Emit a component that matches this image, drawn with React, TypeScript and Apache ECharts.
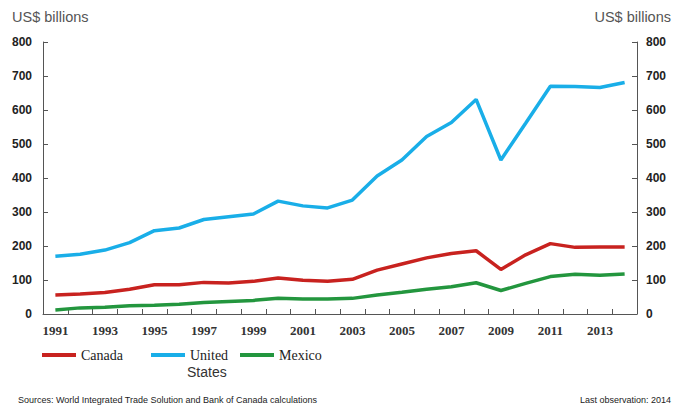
import React, { useEffect, useRef } from "react";
import * as echarts from "echarts";

const years = ["1991","1992","1993","1994","1995","1996","1997","1998","1999","2000","2001","2002","2003","2004","2005","2006","2007","2008","2009","2010","2011","2012","2013","2014"];
const canada = [56,59,63,73,86,86,93,91,96,106,99,96,102,129,147,165,178,186,131,174,207,196,197,197];
const unitedStates = [170,176,188,210,245,253,278,286,294,332,318,312,335,406,453,522,563,631,453,561,670,669,666,681];
const mexico = [12,18,20,24,26,29,34,37,40,46,44,44,46,56,64,73,80,92,69,90,110,117,114,118];

const unitTitle = "US$ billions";
const sourceText = "Sources: World Integrated Trade Solution and Bank of Canada calculations";
const lastObs = "Last observation: 2014";

const RED = "#C8221F";
const BLUE = "#19AEE8";
const GREEN = "#23963E";

export default function App() {
  const ref = useRef<HTMLDivElement>(null);
  useEffect(() => {
    const chart = echarts.init(ref.current!, null, { renderer: "svg" });
    const axisLine = { show: true, lineStyle: { color: "#555", width: 1 } };
    const yLabel = { color: "#222", fontFamily: "Liberation Sans, Arial, sans-serif", fontWeight: "bold" as const, fontSize: 12 };
    const legendText = { color: "#222", fontFamily: "Liberation Serif, serif", fontSize: 14 };
    const mkLegend = (name: string, left: number, text?: string) => ({
      data: [name],
      left,
      top: 348,
      icon: "rect",
      itemWidth: 34,
      itemHeight: 4,
      itemGap: 0,
      padding: 0,
      textStyle: legendText,
      formatter: text ? () => text : undefined,
      selectedMode: false,
    });
    chart.setOption({
      animation: false,
      backgroundColor: "#fff",
      grid: { left: 43, right: 36, top: 42, bottom: 94, containLabel: false },
      xAxis: {
        type: "category",
        data: years,
        boundaryGap: true,
        axisLine,
        axisTick: { show: true, inside: true, length: 5, interval: 0, alignWithLabel: false, lineStyle: { color: "#555" } },
        axisLabel: { interval: 1, margin: 10, color: "#333", fontFamily: "Liberation Serif, serif", fontSize: 13, fontWeight: "bold" },
        splitLine: { show: false },
      },
      yAxis: [
        {
          type: "value", min: 0, max: 800, interval: 100, position: "left",
          axisLine, axisTick: { show: true, inside: true, length: 5, lineStyle: { color: "#555" } },
          axisLabel: { ...yLabel, margin: 11 }, splitLine: { show: false },
        },
        {
          type: "value", min: 0, max: 800, interval: 100, position: "right",
          axisLine, axisTick: { show: true, inside: true, length: 5, lineStyle: { color: "#555" } },
          axisLabel: { ...yLabel, margin: 9 }, splitLine: { show: false },
        },
      ],
      legend: [
        mkLegend("Canada", 42),
        mkLegend("United States", 151, "United"),
        mkLegend("Mexico", 240),
      ],
      series: [
        { name: "Canada", type: "line", data: canada, symbol: "none", lineStyle: { color: RED, width: 3.5 }, itemStyle: { color: RED } },
        { name: "United States", type: "line", data: unitedStates, symbol: "none", lineStyle: { color: BLUE, width: 3.5 }, itemStyle: { color: BLUE } },
        { name: "Mexico", type: "line", data: mexico, symbol: "none", lineStyle: { color: GREEN, width: 3.5 }, itemStyle: { color: GREEN } },
      ],
      graphic: [
        { type: "text", left: 12, top: 9, style: { text: unitTitle, fontSize: 14.5, fill: "#555", fontFamily: "Liberation Sans, Arial, sans-serif" } },
        { type: "text", right: 2, top: 9, style: { text: unitTitle, fontSize: 14.5, fill: "#555", fontFamily: "Liberation Sans, Arial, sans-serif" } },
        { type: "text", left: 187, top: 365, style: { text: "States", fontSize: 14, fill: "#333", fontFamily: "Liberation Sans, Arial, sans-serif" } },
        { type: "text", left: 18, top: 395, style: { text: sourceText, fontSize: 9, fill: "#222", fontFamily: "Liberation Sans, Arial, sans-serif" } },
        { type: "text", right: 2, top: 395, style: { text: lastObs, fontSize: 9, fill: "#222", fontFamily: "Liberation Sans, Arial, sans-serif" } },
      ],
    });
    return () => chart.dispose();
  }, []);
  return <div ref={ref} style={{ width: 673, height: 408, position: "absolute", left: 0, top: 0 }} />;
}
